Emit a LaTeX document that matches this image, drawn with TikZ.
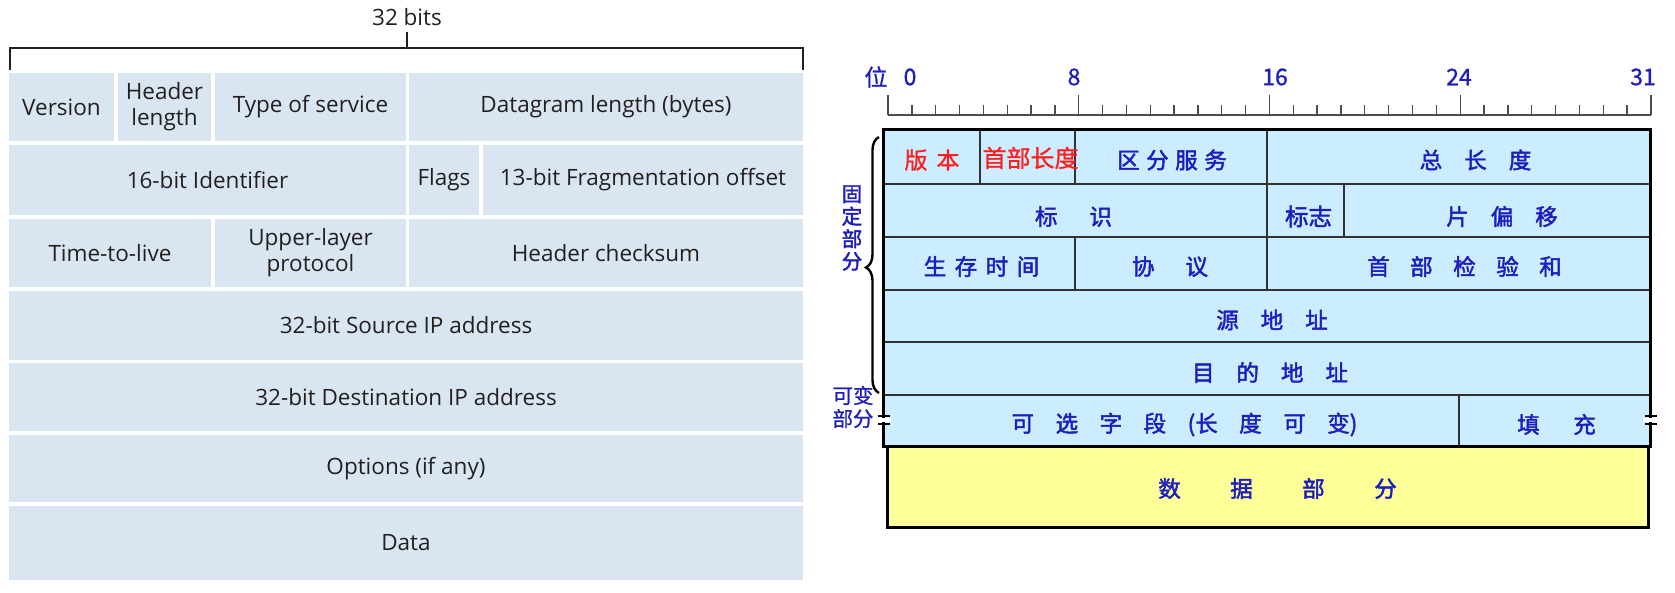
\documentclass[tikz,border=0pt]{standalone}
\usepackage{fontspec}
\setmainfont{Open Sans}
\newfontfamily\cjk[FakeBold=2]{Noto Sans CJK SC}
\newfontfamily\cjkr[FakeBold=1]{Noto Sans CJK SC}
\usetikzlibrary{decorations.pathreplacing}
\definecolor{lfill}{HTML}{D9E6F2}
\definecolor{ltext}{HTML}{231F20}
\definecolor{rfill}{HTML}{CCECFF}
\definecolor{yfill}{HTML}{FFFF99}
\definecolor{rblue}{RGB}{30,30,190}
\definecolor{rredc}{RGB}{255,30,30}
\newcommand\gapx[1]{\hspace{#1pt}}
\newcommand\mkcell[7]{\node[#6, minimum width={(#4)-(#2)}, minimum height={(#5)-(#3)}] (#1) at ({((#2)+(#4))/2},{((#3)+(#5))/2}) {#7};}
\begin{document}
\begin{tikzpicture}[x=1pt,y=-1pt,
  lcell/.style={fill=lfill, draw=none, inner sep=0pt, align=center, text=ltext, font=\fontsize{22.5}{26}\selectfont},
  lline/.style={draw=ltext, line width=1.4pt},
  rcell/.style={fill=rfill, draw=black!80, line width=1.2pt, inner sep=0pt},
  ycell/.style={fill=yfill, draw=black, line width=3pt, inner sep=0pt},
  rtxt/.style={text=rblue, inner sep=0pt, font=\cjk\fontsize{22.5}{24}\selectfont},
  redtxt/.style={text=rredc, inner sep=0pt, font=\cjkr\fontsize{23}{24}\selectfont},
  sidetxt/.style={text=rblue, inner sep=0pt, align=center},
  ruler/.style={draw=black!70, line width=1.3pt},
  rnum/.style={text=rblue, inner sep=0pt, font=\cjkr\fontsize{23}{26}\selectfont}]
\useasboundingbox (0,0) rectangle (1675,593);
% ---------------- left diagram ----------------
\node[text=ltext, inner sep=0pt, font=\fontsize{22.5}{26}\selectfont] (bits) at (407,17) {32 bits};
\draw[lline] (10,70) -- (10,48) -- (803,48) -- (803,70);
\draw[lline] (407,32) -- (407,48);
\mkcell{ver}{9}{73}{114}{141}{lcell}{Version}
\mkcell{hlen}{118}{73}{211}{141}{lcell}{Header\\length}
\mkcell{tos}{215}{73}{406}{141}{lcell}{Type of service}
\mkcell{dlen}{409}{73}{803}{141}{lcell}{Datagram length (bytes)}
\mkcell{ident}{9}{145}{406}{215}{lcell}{16-bit Identifier}
\mkcell{flags}{409}{145}{479}{215}{lcell}{Flags}
\mkcell{frag}{483}{145}{803}{215}{lcell}{13-bit Fragmentation offset}
\mkcell{ttl}{9}{219}{211}{287}{lcell}{Time-to-live}
\mkcell{proto}{215}{219}{406}{287}{lcell}{Upper-layer\\protocol}
\mkcell{csum}{409}{219}{803}{287}{lcell}{Header checksum}
\mkcell{src}{9}{291}{803}{360}{lcell}{32-bit Source IP address}
\mkcell{dst}{9}{363}{803}{431}{lcell}{32-bit Destination IP address}
\mkcell{opt}{9}{435}{803}{502}{lcell}{Options (if any)}
\mkcell{data}{9}{506}{803}{580}{lcell}{Data}
% ---------------- right diagram ----------------
\draw[ruler] (888,115) -- (1651,115);
\foreach \i in {0,...,32}{
  \pgfmathtruncatemacro\m{mod(\i,8)}
  \ifnum\m=0 \draw[ruler] ({888+\i*23.84},95) -- ({888+\i*23.84},115);
  \else \draw[ruler] ({888+\i*23.84},105) -- ({888+\i*23.84},115); \fi
}
\node[rnum] (wei) at (876,77) {位};
\node[rnum] (n0) at (910,77) {0};
\node[rnum] (n8) at (1074,77) {8};
\node[rnum] (n16) at (1275,77) {16};
\node[rnum] (n24) at (1459,77) {24};
\node[rnum] (n31) at (1643,77) {31};
% cells
\mkcell{ver2}{884}{130}{980}{184}{rcell}{}
\mkcell{hl2}{980}{130}{1075}{184}{rcell}{}
\mkcell{ds}{1075}{130}{1267}{184}{rcell}{}
\mkcell{tl}{1267}{130}{1650}{184}{rcell}{}
\mkcell{id2}{884}{184}{1267}{237}{rcell}{}
\mkcell{fl2}{1267}{184}{1344}{237}{rcell}{}
\mkcell{fo}{1344}{184}{1650}{237}{rcell}{}
\mkcell{ttl2}{884}{237}{1075}{290}{rcell}{}
\mkcell{pr2}{1075}{237}{1267}{290}{rcell}{}
\mkcell{cs2}{1267}{237}{1650}{290}{rcell}{}
\mkcell{sa}{884}{290}{1650}{342}{rcell}{}
\mkcell{da}{884}{342}{1650}{395}{rcell}{}
\mkcell{op2}{884}{395}{1459}{446}{rcell}{}
\mkcell{pad}{1459}{395}{1650}{446}{rcell}{}
\draw[line width=3pt] (ver2.north west) rectangle (pad.south east);
\mkcell{data2}{887}{446}{1648}{527}{ycell}{}
% break marks
\fill[white] (877,418) rectangle (891,422);
\fill[white] (1643,418) rectangle (1658,422);
\draw[line width=2.6pt] (878,416) -- (890,416) (878,424) -- (890,424);
\draw[line width=2.6pt] (1645,416) -- (1657,416) (1645,424) -- (1657,424);
% texts
\node[redtxt] (t1) at ([shift={(0,3)}]ver2.center) {版\gapx{9}本};
\node[redtxt, font=\cjkr\fontsize{24}{26}\selectfont] (t2) at ([shift={(3,1)}]hl2.center) {首部长度};
\node[rtxt] (t3) at ([shift={(1,3)}]ds.center) {区\gapx{6.5}分\gapx{6.5}服\gapx{6.5}务};
\node[rtxt] (t4) at ([shift={(17,3)}]tl.center) {总\gapx{22}长\gapx{22}度};
\node[rtxt] (t5) at ([shift={(-2,6)}]id2.center) {标\gapx{32}识};
\node[rtxt, font=\cjk\fontsize{23.5}{26}\selectfont] (t6) at ([shift={(3,6)}]fl2.center) {标志};
\node[rtxt] (t7) at ([shift={(5,6)}]fo.center) {片\gapx{22}偏\gapx{22}移};
\node[rtxt] (t8) at ([shift={(2,3)}]ttl2.center) {生\gapx{8.5}存\gapx{8.5}时\gapx{8.5}间};
\node[rtxt] (t9) at ([shift={(-1,3)}]pr2.center) {协\gapx{31}议};
\node[rtxt] (t10) at ([shift={(6,3)}]cs2.center) {首\gapx{20.5}部\gapx{20.5}检\gapx{20.5}验\gapx{20.5}和};
\node[rtxt] (t11) at ([shift={(5,4)}]sa.center) {源\gapx{22}地\gapx{22}址};
\node[rtxt] (t12) at ([shift={(3,4)}]da.center) {目\gapx{22}的\gapx{22}地\gapx{22}址};
\node[rtxt] (t13) at ([shift={(13,4)}]op2.center) {可\gapx{21.5}选\gapx{21.5}字\gapx{21.5}段\gapx{21.5}(长\gapx{21.5}度\gapx{21.5}可\gapx{21.5}变)};
\node[rtxt] (t14) at ([shift={(2,4)}]pad.center) {填\gapx{33.5}充};
\node[rtxt] (t15) at ([shift={(10,2)}]data2.center) {数\gapx{49.5}据\gapx{49.5}部\gapx{49.5}分};
% brace and side labels
\draw[line width=2.4pt, decorate, decoration={brace, amplitude=13pt, aspect=0.49}] (879,393) -- (879,137);
\node[sidetxt, font=\cjk\fontsize{20.5}{22.5}\selectfont] (fixed) at (852,228) {固\\定\\部\\分};
\node[sidetxt, font=\cjkr\fontsize{20.5}{23}\selectfont] (var) at (853,407) {可变\\部分};
\end{tikzpicture}
\end{document}
